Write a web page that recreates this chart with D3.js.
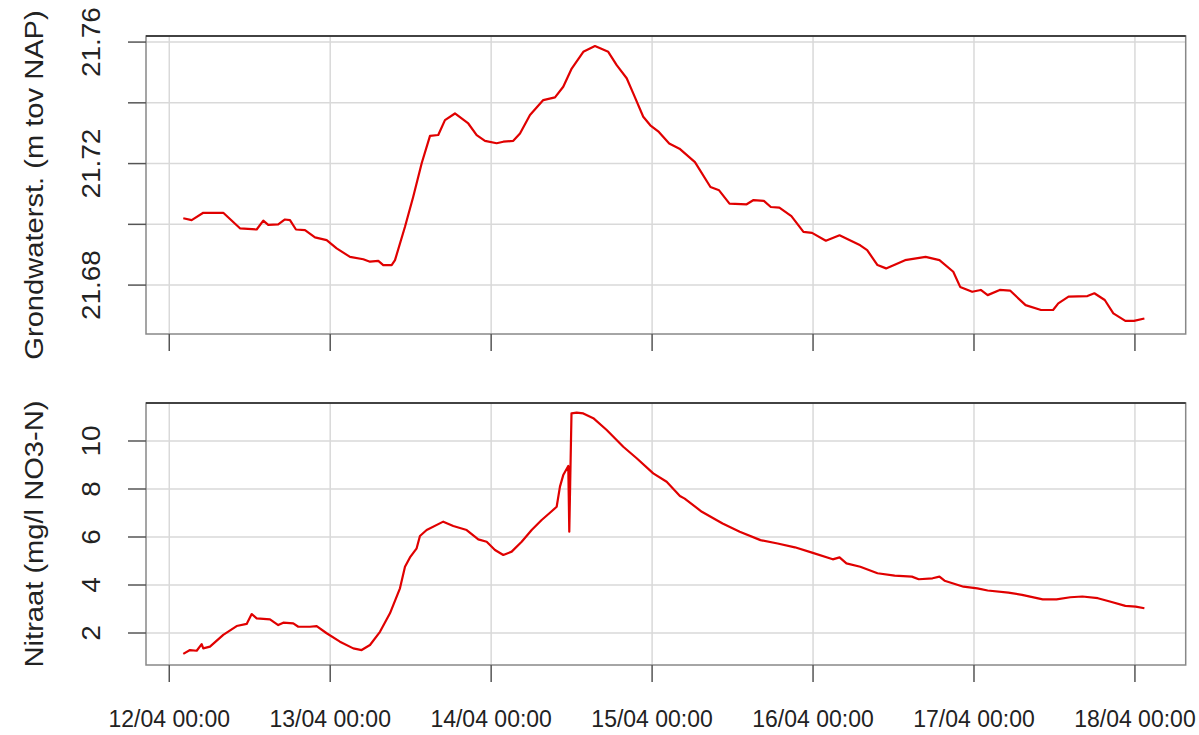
<!DOCTYPE html>
<html>
<head>
<meta charset="utf-8">
<script src="https://cdn.jsdelivr.net/npm/d3@7"></script>
<style>
  html, body { margin: 0; padding: 0; background: #fff; }
  svg { display: block; }
  text { font-family: "Liberation Sans", Arial, sans-serif; fill: #222; }
</style>
</head>
<body>
<svg id="chart" width="1199" height="735"></svg>
<script>
// ---- Data (hours since 12/04 00:00) ----
const xTickHours = [0, 24, 48, 72, 96, 120, 144];
const xTickLabels = ["12/04 00:00", "13/04 00:00", "14/04 00:00", "15/04 00:00", "16/04 00:00", "17/04 00:00", "18/04 00:00"];

const gwTicks = [21.68, 21.70, 21.72, 21.74, 21.76];
const gwTickLabels = ["21.68", "", "21.72", "", "21.76"];
const nitTicks = [2, 4, 6, 8, 10];
const nitTickLabels = ["2", "4", "6", "8", "10"];

const gwHours = [2.09, 3.34, 5.07, 8.05, 10.54, 13.03, 14.02, 14.76, 16.25, 17.25, 18.00, 18.89, 20.24, 21.73, 23.47, 24.96, 26.95, 28.93, 29.93, 31.17, 31.91, 33.16,
  33.66, 35.15, 36.38, 37.64, 38.88, 40.11, 41.11, 42.60, 44.59, 45.84, 47.08, 48.82, 49.81, 51.30, 52.30, 53.79, 55.77, 57.52, 58.75, 60.01, 61.74, 63.48, 65.46, 66.72, 68.21, 69.19, 70.68,
  71.73, 73.01, 74.55, 76.08, 78.39, 80.70, 81.99, 83.54, 86.10, 87.13, 88.67, 89.70, 90.98, 92.77, 94.57, 95.85, 97.91, 99.95, 103.04, 104.07, 105.61, 106.89, 109.72, 112.79, 114.85,
  116.91, 117.94, 119.73, 121.01, 122.04, 123.84, 125.38, 127.69, 130.00, 131.79, 132.57, 134.10, 136.92, 137.95, 139.50, 140.78, 142.57, 143.86, 145.41];
const gwValues = [21.7020, 21.7014, 21.7038, 21.7038, 21.6987, 21.6983, 21.7012, 21.6998, 21.7000, 21.7016, 21.7014, 21.6983, 21.6981, 21.6957, 21.6948, 21.6921, 21.6893, 21.6885, 21.6877, 21.6880, 21.6866, 21.6866,
  21.6882, 21.6992, 21.7091, 21.7201, 21.7291, 21.7294, 21.7343, 21.7365, 21.7332, 21.7294, 21.7275, 21.7267, 21.7272, 21.7275, 21.7299, 21.7360, 21.7409, 21.7418, 21.7453, 21.7513, 21.7568, 21.7587, 21.7568, 21.7524, 21.7481, 21.7431, 21.7354,
  21.7326, 21.7304, 21.7266, 21.7249, 21.7205, 21.7123, 21.7112, 21.7068, 21.7066, 21.7080, 21.7077, 21.7057, 21.7055, 21.7027, 21.6975, 21.6972, 21.6946, 21.6964, 21.6931, 21.6915, 21.6866, 21.6855, 21.6882, 21.6893, 21.6882,
  21.6844, 21.6794, 21.6778, 21.6784, 21.6767, 21.6784, 21.6782, 21.6734, 21.6718, 21.6718, 21.6740, 21.6762, 21.6764, 21.6773, 21.6751, 21.6707, 21.6682, 21.6682, 21.6690];

const nitHours = [2.09, 3.09, 4.09, 4.83, 5.07, 6.07, 8.05, 10.05, 11.54, 12.29, 13.03, 15.02, 16.25, 17.00, 18.49, 19.24, 20.98, 21.98, 23.47, 25.45, 27.44, 28.69, 29.93, 31.42, 32.91, 34.40, 35.15, 35.89, 36.89, 37.38, 38.38, 40.86, 42.35, 44.35, 46.08, 47.33,
  48.57, 49.81, 51.06, 52.55, 54.04, 55.53, 56.77, 57.77, 58.26, 58.75, 59.50, 59.65, 59.98, 60.75, 61.74, 63.23, 65.23, 67.70, 69.70, 72.17, 74.17, 76.15,
  76.86, 79.42, 82.51, 85.07, 88.16, 90.72, 93.29, 95.85, 98.94, 99.95, 100.98, 103.04, 105.61, 108.17, 110.74, 111.76, 113.82, 114.85, 115.61, 118.44, 120.50, 122.04, 125.13, 127.17, 130.25, 132.30, 134.36, 136.16, 138.47, 140.26, 142.57, 144.11, 145.41];
const nitValues = [1.13, 1.29, 1.26, 1.54, 1.36, 1.43, 1.92, 2.29, 2.38, 2.79, 2.61, 2.57, 2.33, 2.43, 2.40, 2.26, 2.26, 2.29, 1.99, 1.64, 1.36, 1.29, 1.50, 2.05, 2.82, 3.86, 4.76, 5.15, 5.53, 6.04, 6.29, 6.64, 6.46, 6.29, 5.90, 5.80,
  5.46, 5.25, 5.39, 5.80, 6.29, 6.71, 7.01, 7.26, 8.10, 8.58, 8.96, 6.22, 11.15, 11.18, 11.15, 10.95, 10.46, 9.76, 9.28, 8.65, 8.30, 7.71,
  7.60, 7.05, 6.56, 6.22, 5.87, 5.73, 5.57, 5.35, 5.07, 5.15, 4.90, 4.76, 4.49, 4.39, 4.35, 4.24, 4.28, 4.35, 4.18, 3.93, 3.86, 3.77, 3.68, 3.59, 3.40, 3.40, 3.49, 3.52, 3.45, 3.31, 3.13, 3.10, 3.03];

// ---- Layout ----
const svg = d3.select("#chart");
const L = 146, R = 1185.7;
const panels = [
  { top: 36, bottom: 334, domain: [21.6639, 21.762], ticks: gwTicks, labels: gwTickLabels,
    hours: gwHours, values: gwValues, title: "Grondwaterst. (m tov NAP)", showX: false },
  { top: 403, bottom: 665, domain: [0.667, 11.583], ticks: nitTicks, labels: nitTickLabels,
    hours: nitHours, values: nitValues, title: "Nitraat (mg/l NO3-N)", showX: true }
];

const x = d3.scaleLinear().domain([-3.47, 151.57]).range([L, R]);
const gridCol = "#d9d9d9";
const SY = 1.12;

panels.forEach(p => {
  const y = d3.scaleLinear().domain(p.domain).range([p.bottom, p.top]);
  const g = svg.append("g");

  // grid
  g.selectAll(".vg").data(xTickHours).enter().append("line")
    .attr("x1", d => x(d)).attr("x2", d => x(d))
    .attr("y1", p.top).attr("y2", p.bottom)
    .attr("stroke", gridCol).attr("stroke-width", 1.5);
  g.selectAll(".hg").data(p.ticks).enter().append("line")
    .attr("x1", L).attr("x2", R)
    .attr("y1", d => y(d)).attr("y2", d => y(d))
    .attr("stroke", gridCol).attr("stroke-width", 1.5);

  // line
  const pts = p.hours.map((h, i) => [h, p.values[i]]);
  g.append("path").datum(pts)
    .attr("fill", "none").attr("stroke", "#e00000").attr("stroke-width", 2.2)
    .attr("stroke-linejoin", "round")
    .attr("d", d3.line().x(d => x(d[0])).y(d => y(d[1])));

  // box
  g.append("rect").attr("x", L).attr("y", p.top).attr("width", R - L).attr("height", p.bottom - p.top)
    .attr("fill", "none").attr("stroke", "#888").attr("stroke-width", 1.5);
  g.append("line").attr("x1", L).attr("x2", R).attr("y1", p.top).attr("y2", p.top)
    .attr("stroke", "#222").attr("stroke-width", 1.6);

  // y axis ticks
  g.selectAll(".yt").data(p.ticks).enter().append("line")
    .attr("x1", L - 18).attr("x2", L)
    .attr("y1", d => y(d)).attr("y2", d => y(d))
    .attr("stroke", "#555").attr("stroke-width", 1.5);
  g.selectAll(".yl").data(p.ticks).enter().append("text")
    .attr("transform", d => `translate(100,${y(d)}) scale(1,${SY}) rotate(-90)`)
    .attr("text-anchor", "middle")
    .attr("font-size", 25)
    .text((d, i) => p.labels[i]);

  // axis title
  g.append("text")
    .attr("transform", `translate(43,${(p.top + p.bottom) / 2}) scale(1,${SY}) rotate(-90)`)
    .attr("text-anchor", "middle")
    .attr("font-size", 26)
    .text(p.title);

  // x ticks
  g.selectAll(".xt").data(xTickHours).enter().append("line")
    .attr("x1", d => x(d)).attr("x2", d => x(d))
    .attr("y1", p.bottom).attr("y2", p.bottom + 17)
    .attr("stroke", "#555").attr("stroke-width", 1.5);

  if (p.showX) {
    g.selectAll(".xl").data(xTickHours).enter().append("text")
      .attr("x", d => x(d)).attr("y", 727)
      .attr("text-anchor", "middle")
      .attr("font-size", 23)
      .text((d, i) => xTickLabels[i]);
  }
});
</script>
</body>
</html>
